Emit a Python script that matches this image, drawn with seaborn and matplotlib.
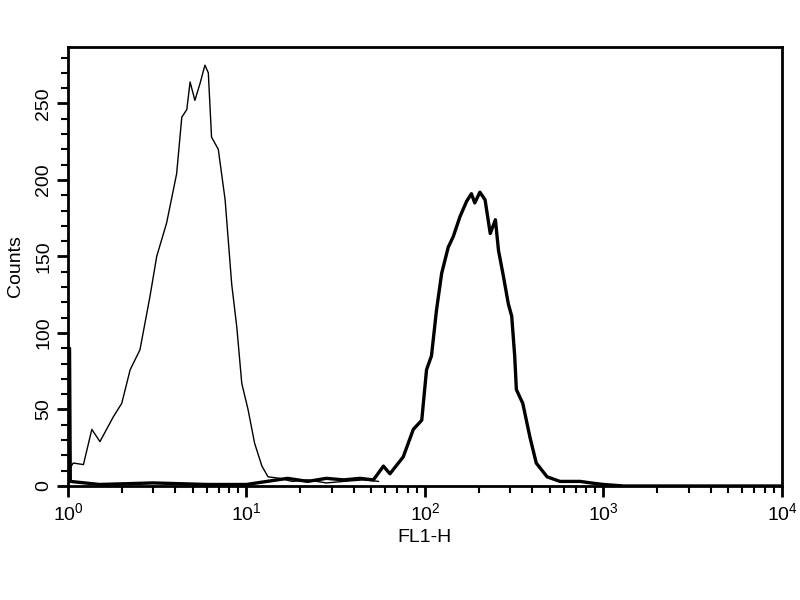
import matplotlib
matplotlib.use("Agg")
import matplotlib.pyplot as plt
import seaborn as sns
import pandas as pd
from matplotlib.ticker import LogLocator, MultipleLocator

# control (thin line) - FL1-H channel value vs counts
ctrl_x = [1.02, 1.03, 1.07, 1.22, 1.36, 1.51, 1.79, 2.0, 2.23, 2.53, 2.88, 3.14, 3.57,
          4.06, 4.34, 4.63, 4.83, 5.14, 5.49, 5.85, 6.11, 6.37, 6.95, 7.59, 8.26,
          8.82, 9.41, 10.2, 11.1, 12.2, 13.2, 15.4, 18, 22, 28, 35, 45, 55]
ctrl_y = [55, 12, 15, 14, 37, 29, 45, 54, 76, 89, 124, 150, 172,
          204, 241, 246, 264, 252, 263, 275, 270, 228, 220, 187, 132,
          104, 67, 50, 28, 13, 6, 5, 3, 4, 2, 3, 4, 3]

# stained sample (thick line)
stain_x = [1.02, 1.03, 1.5, 3, 6, 10, 13, 17, 22, 28, 35, 43.2, 51.4, 58.5, 63.6,
           75.5, 86.0, 95.9, 102, 108.7, 116, 124, 134.9, 144, 157, 171, 182, 190,
           203, 217, 232, 248, 258, 275, 293, 306, 318, 325, 353, 387, 420, 483,
           570, 740, 850, 1000, 1300, 3000, 10000]
stain_y = [90, 3, 1, 2, 1, 1, 3, 5, 3, 5, 4, 5, 4, 13, 8,
           19, 37, 43, 76, 85, 115, 139, 156, 163, 176, 186, 191, 185,
           192, 187, 165, 174, 154, 137, 119, 111, 85, 63, 54, 32, 15, 6,
           3, 3, 2, 1, 0, 0, 0]

df_ctrl = pd.DataFrame({"FL1-H": ctrl_x, "Counts": ctrl_y})
df_stain = pd.DataFrame({"FL1-H": stain_x, "Counts": stain_y})

sns.set_style("ticks")
plt.rcParams["font.family"] = ["Liberation Sans", "DejaVu Sans"]

fig = plt.figure(figsize=(8, 6), dpi=100)
ax = fig.add_axes([0.085, 0.19, 0.8925, 0.732])

sns.lineplot(data=df_ctrl, x="FL1-H", y="Counts", color="black", linewidth=1.0,
             sort=False, estimator=None, ax=ax)
sns.lineplot(data=df_stain, x="FL1-H", y="Counts", color="black", linewidth=2.4,
             sort=False, estimator=None, ax=ax)

ax.set_xscale("log")
ax.set_xlim(1, 10000)
ax.set_ylim(0, 287)
ax.xaxis.set_major_locator(LogLocator(base=10, numticks=10))
ax.xaxis.set_minor_locator(LogLocator(base=10, subs=range(2, 10), numticks=10))
ax.yaxis.set_major_locator(MultipleLocator(50))
ax.yaxis.set_minor_locator(MultipleLocator(10))

for s in ax.spines.values():
    s.set_linewidth(2)
    s.set_color("black")

ax.tick_params(axis="both", which="major", direction="out", length=8, width=2,
               labelsize=14, colors="black", labelcolor="black")
ax.tick_params(axis="both", which="minor", direction="out", length=5, width=1.5,
               colors="black")
for lab in ax.get_yticklabels():
    lab.set_rotation(90)
    lab.set_va("center")

ax.set_xlabel("FL1-H", fontsize=14, labelpad=4, color="black")
ax.set_ylabel("Counts", fontsize=14, labelpad=8, color="black")

fig.savefig("out.png", dpi=100)
